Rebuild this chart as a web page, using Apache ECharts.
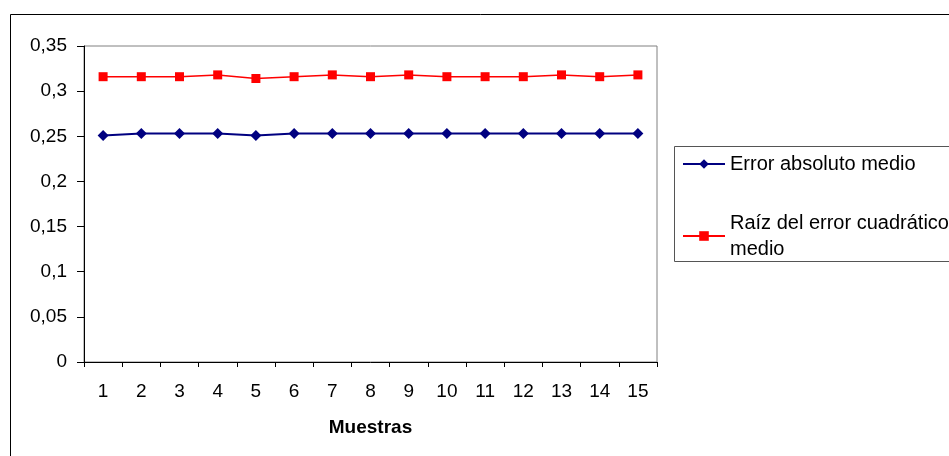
<!DOCTYPE html>
<html>
<head>
<meta charset="utf-8">
<script src="https://cdn.jsdelivr.net/npm/echarts@6/dist/echarts.min.js"></script>
<style>
html,body{margin:0;padding:0;background:#fff;}
#c{width:949px;height:456px;}
</style>
</head>
<body>
<div id="c"></div>
<script>
const categories = ['1','2','3','4','5','6','7','8','9','10','11','12','13','14','15'];
const maeValues = [0.251,0.253,0.253,0.253,0.251,0.253,0.253,0.253,0.253,0.253,0.253,0.253,0.253,0.253,0.253];
const rmseValues = [0.316,0.316,0.316,0.318,0.314,0.316,0.318,0.316,0.318,0.316,0.316,0.316,0.318,0.316,0.318];
const yTickLabels = ['0','0,05','0,1','0,15','0,2','0,25','0,3','0,35'];
const seriesNames = ['Error absoluto medio','Raíz del error cuadrático medio'];
const xTitle = 'Muestras';

const FONT = '"Liberation Sans", Arial, sans-serif';
const chart = echarts.init(document.getElementById('c'), null, {renderer:'canvas'});
chart.setOption({
  backgroundColor:'#fff',
  animation:false,
  textStyle:{fontFamily:FONT},
  grid:{left:84,top:46,right:292,bottom:94,show:true,borderColor:'#808080',borderWidth:1,backgroundColor:'transparent'},
  xAxis:{
    type:'category',data:categories,boundaryGap:true,
    name:xTitle,nameLocation:'middle',nameGap:56,
    nameTextStyle:{fontFamily:FONT,fontSize:19,fontWeight:'bold',color:'#000'},
    axisLine:{lineStyle:{color:'#000',width:1}},
    axisTick:{show:true,length:5,lineStyle:{color:'#000'}},
    axisLabel:{fontFamily:FONT,fontSize:19,color:'#000',margin:20,interval:0},
    splitLine:{show:false}
  },
  yAxis:{
    type:'value',min:0,max:0.35,interval:0.05,
    axisLine:{show:true,lineStyle:{color:'#000',width:1}},
    axisTick:{show:true,length:7,lineStyle:{color:'#000'}},
    axisLabel:{fontFamily:FONT,fontSize:19,color:'#000',margin:17,
      formatter:function(v){return yTickLabels[Math.round(v/0.05)];}},
    splitLine:{show:false}
  },
  legend:{
    orient:'vertical',left:682,top:151,padding:0,itemGap:20,
    itemWidth:42,itemHeight:12,
    textStyle:{fontFamily:FONT,fontSize:20,color:'#000',lineHeight:26},
    data:[
      {name:seriesNames[0]},
      {name:seriesNames[1],textStyle:{padding:[26,0,0,0]}}
    ],
    formatter:function(n){return n===seriesNames[1]?'Raíz del error cuadrático\nmedio':n;}
  },
  graphic:[
    {type:'rect',silent:true,z:-1,shape:{x:10.5,y:14.5,width:1000,height:500},style:{fill:'none',stroke:'#000',lineWidth:1}},
    {type:'rect',silent:true,z:-1,shape:{x:674.5,y:146.5,width:400,height:115},style:{fill:'none',stroke:'#555',lineWidth:1}}
  ],
  series:[
    {name:seriesNames[0],type:'line',data:maeValues,symbol:'diamond',symbolSize:11,
      lineStyle:{color:'#000080',width:2},itemStyle:{color:'#000080'},z:3},
    {name:seriesNames[1],type:'line',data:rmseValues,symbol:'rect',symbolSize:9,
      lineStyle:{color:'#FF0000',width:1.5},itemStyle:{color:'#FF0000'},z:3}
  ]
});
</script>
</body>
</html>
